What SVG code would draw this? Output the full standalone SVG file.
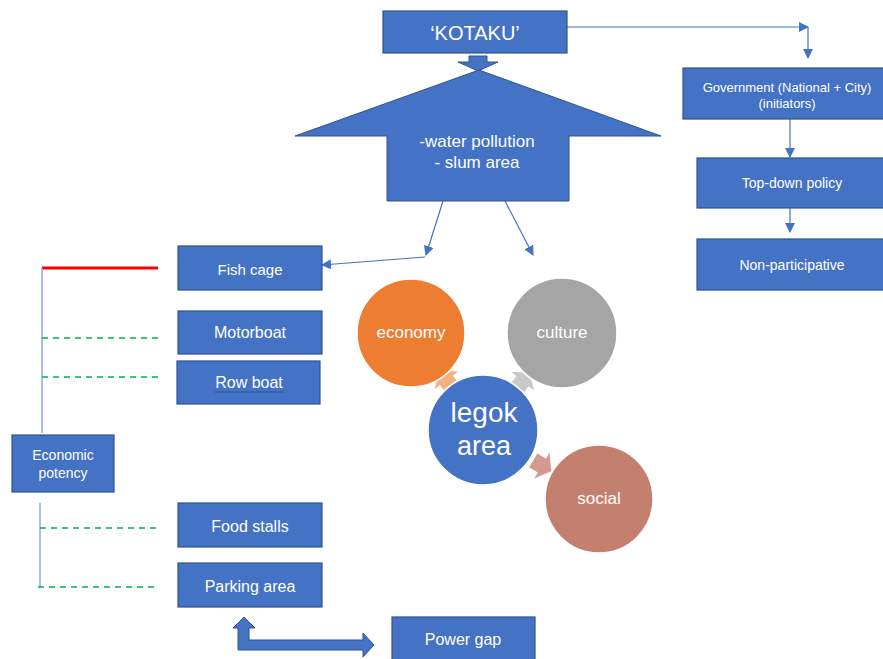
<svg xmlns="http://www.w3.org/2000/svg" width="883" height="659" viewBox="0 0 883 659">
<style>
.box{fill:#4472C4;stroke:#2F528F;stroke-width:1.2}
.t{font-family:"Liberation Sans",Arial,sans-serif;fill:#fff;text-anchor:middle;font-size:16px}
.ln{stroke:#4472C4;stroke-width:1.2;fill:none}
.dash{stroke:#00B050;stroke-width:1.5;stroke-dasharray:6 5;fill:none}
</style>
<defs>
<marker id="ah" viewBox="0 0 10 10" refX="9" refY="5" markerWidth="10" markerHeight="10" markerUnits="userSpaceOnUse" orient="auto">
<path d="M0,0 L10,5 L0,10 Z" fill="#4472C4"/>
</marker>
</defs>
<rect width="883" height="659" fill="#fff"/>

<g id="connectors">
<path class="ln" d="M567,27 H808" marker-end="url(#ah)"/>
<path class="ln" d="M808,27 V58" marker-end="url(#ah)"/>
<path class="ln" d="M790,119 V157" marker-end="url(#ah)"/>
<path class="ln" d="M790,208 V232" marker-end="url(#ah)"/>
<path class="ln" d="M443,201 L426,255" marker-end="url(#ah)"/>
<path class="ln" d="M425,257 L322,265" marker-end="url(#ah)"/>
<path class="ln" d="M505,201 L533,255" marker-end="url(#ah)"/>
<path d="M42,268 H158" stroke="#FF0000" stroke-width="3" fill="none"/>
<path d="M42,268 V433" stroke="#8FAADC" stroke-width="1.5" fill="none"/>
<path d="M40,503 V587" stroke="#8FAADC" stroke-width="1.5" fill="none"/>
<path class="dash" d="M42,338 H158"/>
<path class="dash" d="M42,377 H158"/>
<path class="dash" d="M40,528 H158"/>
<path class="dash" d="M38,587 H155"/>
<path d="M238,628 L233,628 L244,617 L255,628 L249,628 L249,640 L363,640 L363,633 L374,645 L363,657 L363,650 L238,650 Z" fill="#4472C4" stroke="#2F528F" stroke-width="1"/>
</g>

<g id="kotaku">
<rect class="box" x="383" y="11" width="184" height="42"/>
<text class="t" x="475" y="40" style="font-size:20px">‘KOTAKU’</text>
</g>
<g id="kotaku-arrow">
<path d="M469,56 H487 V62 H498 L478,71 L458,62 H469 Z" fill="#4472C4" stroke="#2F528F" stroke-width="1"/>
</g>
<g id="problems">
<path d="M479,70 L661,136 H569 V201 H387 V136 H295 Z" fill="#4472C4" stroke="#2F528F" stroke-width="1"/>
<text class="t" x="477" y="147" style="font-size:17px">-water pollution</text>
<text class="t" x="477" y="168" style="font-size:17px">- slum area</text>
</g>

<g id="government">
<rect class="box" x="683" y="68" width="205" height="51"/>
<text class="t" x="787" y="92" style="font-size:13px">Government (National + City)</text>
<text class="t" x="787" y="108" style="font-size:13px">(initiators)</text>
</g>
<g id="topdown">
<rect class="box" x="697" y="158" width="191" height="50"/>
<text class="t" x="792" y="188" style="font-size:14px">Top-down policy</text>
</g>
<g id="nonpart">
<rect class="box" x="697" y="239" width="191" height="51"/>
<text class="t" x="792" y="270" style="font-size:14px">Non-participative</text>
</g>

<g id="fishcage">
<rect class="box" x="178" y="246" width="144" height="44"/>
<text class="t" x="250" y="275" style="font-size:15px">Fish cage</text>
</g>
<g id="motorboat">
<rect class="box" x="178" y="311" width="144" height="43"/>
<text class="t" x="250" y="338">Motorboat</text>
</g>
<g id="rowboat">
<rect class="box" x="177" y="361" width="143" height="43"/>
<text class="t" x="249" y="388">Row boat</text>
<path d="M214,392 H284" stroke="#2F5597" stroke-width="1.2"/>
</g>
<g id="economic">
<rect class="box" x="12" y="435" width="102" height="57"/>
<text class="t" x="63" y="460" style="font-size:14px">Economic</text>
<text class="t" x="63" y="478" style="font-size:14px">potency</text>
</g>
<g id="foodstalls">
<rect class="box" x="178" y="503" width="144" height="44"/>
<text class="t" x="250" y="532">Food stalls</text>
</g>
<g id="parking">
<rect class="box" x="178" y="563" width="144" height="44"/>
<text class="t" x="250" y="592">Parking area</text>
</g>
<g id="powergap">
<rect class="box" x="392" y="617" width="143" height="48"/>
<text class="t" x="463" y="645">Power gap</text>
</g>

<g id="radial-arrows">
<path d="M-9,-8 H1 V-15 L12,0 L1,15 V8 H-9 Z" fill="#F4B183" transform="translate(447,381) rotate(-126.6)"/>
<path d="M-9,-8 H1 V-15 L12,0 L1,15 V8 H-9 Z" fill="#C9C9C9" transform="translate(522,382) rotate(-50.8)"/>
<path d="M-9,-8 H1 V-15 L12,0 L1,15 V8 H-9 Z" fill="#D49A90" transform="translate(541,465) rotate(30.7)"/>
</g>
<g id="economy">
<circle cx="411" cy="333" r="54" fill="#ED7D31" stroke="#fff" stroke-width="1.5"/>
<text class="t" x="411" y="338" style="font-size:17px">economy</text>
</g>
<g id="culture">
<circle cx="562" cy="333" r="55" fill="#A5A5A5" stroke="#fff" stroke-width="1.5"/>
<text class="t" x="562" y="338" style="font-size:17px">culture</text>
</g>
<g id="legok">
<circle cx="483" cy="430" r="55" fill="#4472C4" stroke="#fff" stroke-width="1.5"/>
<text class="t" x="484" y="422" style="font-size:28px">legok</text>
<text class="t" x="484" y="455" style="font-size:27px">area</text>
</g>
<g id="social">
<circle cx="599" cy="499" r="54" fill="#C4806F" stroke="#fff" stroke-width="1.5"/>
<text class="t" x="599" y="504" style="font-size:17px">social</text>
</g>
</svg>
